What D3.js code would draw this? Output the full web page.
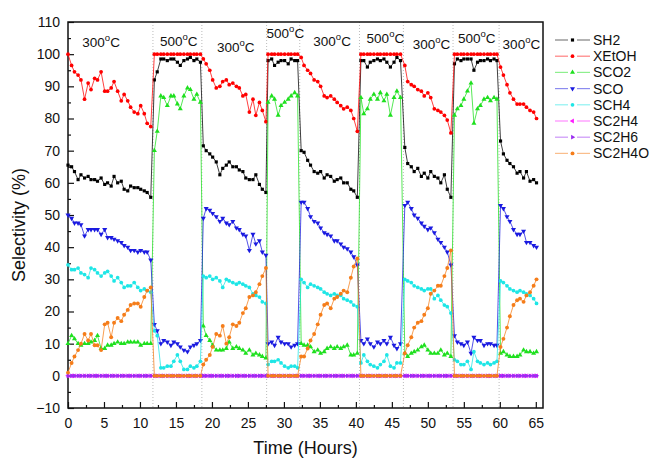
<!DOCTYPE html>
<html>
<head>
	<title>Selectivity</title>
	<meta charset='utf-8'>
	<style>
		body { margin: 0; background: #fff; }
		svg { font-family: 'Liberation Sans', Arial, sans-serif; }
		.axis text { font-size: 14px; fill: #111; }
		.axis line { stroke: #111; stroke-width: 1.2px; }
		.axis path.domain { display: none; }
		.frame { fill: none; stroke: #111; stroke-width: 1.5px; }
		.sep { stroke: #bbb; stroke-width: 1px; stroke-dasharray: 1,2; }
		.line { fill: none; stroke-width: 1px; }
		.title { font-size: 18px; fill: #111; }
		.temp { font-size: 13.5px; fill: #111; }
		.legend text { font-size: 14px; fill: #111; }
	</style>
</head>
<body>
<script src='https://d3js.org/d3.v7.min.js'></script>
<script>
	'use strict';

	// время отбора проб, часы (9 участков: 300 / 500 / 300 ...)
	const hours = [
		0, 0.5, 0.9, 1.4, 1.8, 2.3, 2.8, 3.2, 3.7, 4.1, 4.6, 5.1, 5.5, 6.0, 6.4, 6.9, 7.4, 7.8, 8.3, 8.7, 9.2, 9.7, 10.1, 10.6, 11.0, 11.5,
		12.0, 12.4, 12.9, 13.3, 13.8, 14.3, 14.7, 15.2, 15.6, 16.1, 16.6, 17.0, 17.5, 17.9, 18.4,
		18.8, 19.2, 19.7, 20.1, 20.6, 21.1, 21.5, 22.0, 22.4, 22.9, 23.4, 23.8, 24.3, 24.7, 25.2, 25.7, 26.1, 26.6, 27.0, 27.5,
		27.8, 28.3, 28.7, 29.2, 29.6, 30.1, 30.6, 31.0, 31.5, 31.9,
		32.4, 32.8, 33.3, 33.7, 34.2, 34.7, 35.1, 35.6, 36.0, 36.5, 37.0, 37.4, 37.9, 38.3, 38.8, 39.3, 39.7, 40.2,
		40.7, 41.1, 41.6, 42.0, 42.5, 43.0, 43.4, 43.9, 44.3, 44.8, 45.3, 45.7, 46.2,
		46.8, 47.2, 47.7, 48.1, 48.6, 49.1, 49.5, 50.0, 50.4, 50.9, 51.4, 51.8, 52.3, 52.7, 53.2,
		53.7, 54.1, 54.6, 55.0, 55.5, 56.0, 56.4, 56.9, 57.3, 57.8, 58.3, 58.7, 59.2, 59.6,
		60.1, 60.5, 61.0, 61.4, 61.9, 62.4, 62.8, 63.3, 63.7, 64.2, 64.7, 65.1
	];

	const sh2 = [
		65.5, 65, 63.5, 61, 62.5, 61.5, 62, 61, 61, 60.5, 61.5, 59.5, 60, 59, 62, 60, 60.5, 58, 57.5, 59, 58.5, 58.5, 58, 57.5, 57, 55.5,
		92, 94.5, 98.5, 98.5, 98, 98.5, 98.5, 97.5, 96.5, 98, 98.5, 99, 98, 98.5, 97.5,
		71.5, 70, 69, 68, 66.5, 62.5, 64.5, 65.5, 66.5, 65, 65, 64, 63.5, 61.5, 61, 61, 62.5, 59.5, 58, 57,
		98, 98.5, 96.5, 97.5, 98, 98, 97, 98.5, 98, 98,
		70, 69.5, 67, 65.5, 63.5, 63, 63.5, 61.5, 62.5, 62, 60.5, 61, 61.5, 60, 60, 58, 57.5, 55.5,
		98, 98, 96, 97.5, 98, 98.5, 98, 98.5, 97.5, 96, 97.5, 99, 98,
		71, 66, 65, 63.5, 64.5, 62, 63, 61.5, 63.5, 62, 61.5, 60, 62.5, 58, 55.5,
		97, 98.5, 98, 98.5, 98.5, 98.5, 95, 97.5, 98, 98, 98.5, 98, 98.5, 98,
		73, 69, 67, 66, 65, 63, 63.5, 61.5, 63.5, 60.5, 61, 60
	];

	const xEtOH = [
		100, 96.5, 94.5, 93.5, 92, 86, 91, 89, 92.5, 92, 94.5, 88.5, 88.5, 89.5, 91.5, 88.5, 85.5, 87.5, 85.5, 83.5, 82, 81.5, 84, 81.5, 78.5, 77.5,
		100, 100, 100, 100, 100, 100, 100, 100, 100, 100, 100, 100, 100, 100, 100,
		98.5, 97, 95, 92, 89.5, 90, 91.5, 92, 90.5, 91, 90, 89.5, 87, 87.5, 82, 86, 81, 85, 82.5, 79,
		100, 100, 100, 100, 100, 100, 100, 100, 100, 100,
		99, 96.5, 95, 94, 92, 91.5, 90, 87, 86.5, 87, 86, 85, 84, 83, 83.5, 82.5, 80, 76,
		100, 100, 100, 100, 100, 100, 100, 100, 100, 100, 100, 100, 100,
		96.5, 91.5, 90.5, 90, 89, 88.5, 87, 88, 86.5, 83, 82.5, 82, 81, 79.5, 75.5,
		100, 100, 100, 100, 100, 100, 100, 100, 100, 100, 100, 100, 100, 100,
		96, 93.5, 90.5, 88, 86, 84.5, 84.5, 84.5, 83.5, 82.5, 82, 80
	];

	const sco2 = [
		10, 12.5, 11.5, 10, 9.5, 10, 10, 10.5, 11, 12.5, 8.5, 8.5, 9.5, 9.5, 10, 10.5, 10, 10, 10.5, 10.5, 10.5, 10.5, 9.5, 10, 10, 10,
		70, 76, 87, 86.5, 84, 87, 87, 84.5, 83, 87, 89.5, 89, 86, 87.5, 85,
		15.5, 12.5, 11, 9.5, 8, 8, 8, 8.5, 10.5, 8.5, 9, 8.5, 8, 7, 8, 6.5, 7, 6.5, 6, 5.5,
		85, 87, 86, 81, 84, 85, 86, 87, 88, 87,
		10, 9.5, 9.5, 9, 7.5, 8, 7, 7.5, 8.5, 9, 8.5, 9, 8.5, 9, 9.5, 6.5, 6.5, 7,
		86.5, 81.5, 83, 86, 87.5, 86, 88, 85.5, 87.5, 81, 86.5, 88.5, 86.5,
		7, 6, 7, 7.5, 8, 9, 9.5, 8, 7, 7, 7, 8, 6.5, 7, 6,
		81, 83, 84, 86, 88.5, 91, 78.5, 83, 84, 86, 86.5, 85.5, 86.5, 86,
		7, 7.5, 6.5, 6, 6, 6, 6.5, 8, 7.5, 7.5, 7, 7.5
	];

	const sco = [
		50, 49, 47.5, 47.5, 47, 43.5, 45.5, 45.5, 45.5, 45.5, 44, 45.5, 43, 43, 42.5, 42, 41.5, 40.5, 40, 39, 39, 38.5, 39, 38.5, 38.5, 36,
		16, 14, 10, 11, 10.5, 9.5, 10.5, 10, 9, 8, 7.5, 9, 9.5, 10, 11,
		49, 52, 51.5, 50.5, 49.5, 48, 49, 47.5, 47, 48, 46, 45.5, 44, 43.5, 39, 44, 41, 42, 38.5, 37.5,
		10, 10.5, 9.5, 12, 10.5, 10, 10, 9, 9.5, 10,
		54, 54, 52, 49.5, 48, 47.5, 46, 44.5, 44, 43.5, 42, 42, 41, 40, 39.5, 38.5, 37, 34.5,
		11, 10, 11.5, 10, 9, 10.5, 10, 11, 10, 12, 9.5, 8.5, 10,
		53, 54, 52, 50, 49, 47.5, 46.5, 45.5, 46, 44.5, 42.5, 41.5, 40, 38.5, 34.5,
		12.5, 10.5, 10, 9.5, 10.5, 7, 12, 11, 11, 9.5, 10, 10, 9.5, 9.5,
		53, 52, 49.5, 48, 45.5, 44, 44, 45, 41.5, 41.5, 40.5, 40
	];

	const sch4 = [
		34.5, 33, 33, 33.5, 32, 31.5, 30.5, 33.5, 33, 32, 31, 32, 32.5, 31, 29.5, 30.5, 29, 27.5, 28, 28, 29, 27.5, 26.5, 27, 26.5, 26,
		14, 12.5, 2.5, 2.5, 3, 3, 4.5, 6.5, 4.5, 2, 2, 3, 2.5, 3, 4.5,
		31, 30.5, 31, 30, 30.5, 29.5, 27.5, 30, 29.5, 29, 28.5, 29, 28.5, 28, 27.5, 25.5, 25, 24.5, 23, 22.5,
		3.5, 4.5, 4.5, 5, 4, 3, 2.5, 3, 3, 2.5,
		30, 29, 27.5, 28.5, 28, 27.5, 27, 26, 25.5, 25, 25.5, 25, 25, 24, 23.5, 23, 22, 21.5,
		4, 6.5, 4.5, 3.5, 3, 2.5, 3.5, 4.5, 6.5, 3, 2.5, 4, 4,
		30, 29.5, 29, 28, 27.5, 27, 26.5, 27, 27, 24, 25, 23.5, 22, 21.5, 19.5,
		5, 4.5, 3.5, 3.5, 4.5, 2, 7.5, 4.5, 4, 3.5, 4, 3.5, 4, 4.5,
		29.5, 29, 28, 27, 26.5, 26, 26.5, 26, 25.5, 25, 24, 22.5
	];

	const sc2h4 = [
		0, 0, 0, 0, 0, 0, 0, 0, 0, 0, 0, 0, 0, 0, 0, 0, 0, 0, 0, 0, 0, 0, 0, 0, 0, 0,
		0, 0, 0, 0, 0, 0, 0, 0, 0, 0, 0, 0, 0, 0, 0,
		0, 0, 0, 0, 0, 0, 0, 0, 0, 0, 0, 0, 0, 0, 0, 0, 0, 0, 0, 0,
		0, 0, 0, 0, 0, 0, 0, 0, 0, 0,
		0, 0, 0, 0, 0, 0, 0, 0, 0, 0, 0, 0, 0, 0, 0, 0, 0, 0,
		0, 0, 0, 0, 0, 0, 0, 0, 0, 0, 0, 0, 0,
		0, 0, 0, 0, 0, 0, 0, 0, 0, 0, 0, 0, 0, 0, 0,
		0, 0, 0, 0, 0, 0, 0, 0, 0, 0, 0, 0, 0, 0,
		0, 0, 0, 0, 0, 0, 0, 0, 0, 0, 0, 0
	];

	const sc2h6 = [
		0, 0, 0, 0, 0, 0, 0, 0, 0, 0, 0, 0, 0, 0, 0, 0, 0, 0, 0, 0, 0, 0, 0, 0, 0, 0,
		0, 0, 0, 0, 0, 0, 0, 0, 0, 0, 0, 0, 0, 0, 0,
		0, 0, 0, 0, 0, 0, 0, 0, 0, 0, 0, 0, 0, 0, 0, 0, 0, 0, 0, 0,
		0, 0, 0, 0, 0, 0, 0, 0, 0, 0,
		0, 0, 0, 0, 0, 0, 0, 0, 0, 0, 0, 0, 0, 0, 0, 0, 0, 0,
		0, 0, 0, 0, 0, 0, 0, 0, 0, 0, 0, 0, 0,
		0, 0, 0, 0, 0, 0, 0, 0, 0, 0, 0, 0, 0, 0, 0,
		0, 0, 0, 0, 0, 0, 0, 0, 0, 0, 0, 0, 0, 0,
		0, 0, 0, 0, 0, 0, 0, 0, 0, 0, 0, 0
	];

	const sc2h4o = [
		1, 4, 6, 8, 10, 13, 11, 13, 9.5, 9.5, 8, 16, 16.5, 12, 16.5, 18, 17, 19, 20.5, 22, 22.5, 22.5, 21.5, 24.5, 26.5, 27.5,
		0, 0, 0, 0, 0, 0, 0, 0, 0, 0, 0, 0, 0, 0, 0,
		3.5, 5, 6.5, 9, 13, 12.5, 15.5, 10, 12, 16, 15.5, 16.5, 19.5, 21, 24.5, 25, 26, 28.5, 31, 33.5,
		0, 0, 0, 0, 0, 0, 0, 0, 0, 0,
		6, 6, 8.5, 11, 13, 16, 19, 22, 22.5, 21, 24, 24.5, 25.5, 26.5, 26, 30.5, 34, 36.5,
		0, 0, 0, 0, 0, 0, 0, 0, 0, 0, 0, 0, 0,
		7, 9.5, 12, 15, 16.5, 17, 19, 21, 25.5, 26.5, 28, 28, 31, 33.5, 39,
		0, 0, 0, 0, 0, 0, 0, 0, 0, 0, 0, 0, 0, 0,
		9, 11.5, 15, 18.5, 22, 23.5, 24, 23, 25, 26, 28, 30
	];

	const seriesNames = ['SH2', 'XEtOH', 'SCO2', 'SCO', 'SCH4', 'SC2H4', 'SC2H6', 'SC2H4O'];
	const seriesValues = [sh2, xEtOH, sco2, sco, sch4, sc2h4, sc2h6, sc2h4o];

	// границы смены температуры (часы) и подписи участков
	const switchHours = [11.8, 18.6, 27.6, 32.2, 40.5, 46.6, 53.5, 59.9];
	const tempText = ['300', '500', '300', '500', '300', '500', '300', '500', '300'];
	const tempAt = [4.6, 15.4, 23.3, 30.2, 36.7, 44.1, 50.5, 56.8, 63.0];
	const tempLevel = [102.2, 102.4, 100.8, 105, 102.4, 103.5, 101.5, 103.5, 101.6];

	// оформление серий
	const colors = ['#000000', '#ff0000', '#1ee01e', '#1a1ae0', '#1ee6e6', '#ff1aff', '#9a2cf0', '#f57d1a'];
	const symbols = [d3.symbolSquare, d3.symbolCircle, d3.symbolTriangle, d3.symbolTriangle,
		d3.symbolCircle, d3.symbolTriangle, d3.symbolTriangle, d3.symbolCircle];
	const rotations = [0, 0, 0, 180, 0, -90, 90, 0];
	const sizes = [10, 11, 11, 11, 11, 10, 10, 12];

	const W = 654, H = 460;
	const margin = {top: 22, right: 111, bottom: 52, left: 68};
	const width = W - margin.left - margin.right;
	const height = H - margin.top - margin.bottom;

	const xScale = d3.scaleLinear().domain([0, 66]).range([0, width]);
	const yScale = d3.scaleLinear().domain([-10, 110]).range([height, 0]);

	const svgRoot = d3.select('body').append('svg')
		.attr('width', W)
		.attr('height', H);

	const svg = svgRoot.append('g')
		.attr('transform', 'translate(' + margin.left + ',' + margin.top + ')');

	// пунктирные разделители участков
	svg.selectAll('.sep')
		.data(switchHours)
		.enter().append('line')
		.attr('class', 'sep')
		.attr('x1', function(d) {return xScale(d);})
		.attr('x2', function(d) {return xScale(d);})
		.attr('y1', 0)
		.attr('y2', height);

	// оси, засечки внутрь
	svg.append('g')
		.attr('class', 'axis')
		.attr('transform', 'translate(0,' + height + ')')
		.call(d3.axisBottom(xScale)
			.tickValues(d3.range(0, 66, 5))
			.tickSizeInner(-6).tickSizeOuter(0).tickPadding(10));

	svg.append('g')
		.attr('class', 'axis')
		.attr('transform', 'translate(0,' + height + ')')
		.call(d3.axisBottom(xScale)
			.tickValues(d3.range(2.5, 66, 5))
			.tickSizeInner(-3).tickSizeOuter(0).tickFormat(''));

	svg.append('g')
		.attr('class', 'axis')
		.call(d3.axisLeft(yScale)
			.tickValues(d3.range(-10, 111, 10))
			.tickSizeInner(-6).tickSizeOuter(0).tickPadding(8));

	svg.append('g')
		.attr('class', 'axis')
		.call(d3.axisLeft(yScale)
			.tickValues(d3.range(-5, 110, 10))
			.tickSizeInner(-3).tickSizeOuter(0).tickFormat(''));

	svg.append('rect')
		.attr('class', 'frame')
		.attr('width', width)
		.attr('height', height);

	const valueline = d3.line()
		.x(function(d) {return xScale(d.h);})
		.y(function(d) {return yScale(d.v);});

	function symbolPath(i) {
		return d3.symbol().type(symbols[i]).size(sizes[i])();
	}

	// линии и маркеры
	seriesValues.forEach(function(values, i) {
		const points = hours.map(function(h, j) {return {h: h, v: values[j]};});
		const g = svg.append('g');

		g.append('path')
			.datum(points)
			.attr('class', 'line')
			.attr('stroke', colors[i])
			.attr('stroke-opacity', 0.75)
			.attr('d', valueline);

		g.selectAll('path.mark')
			.data(points)
			.enter().append('path')
			.attr('class', 'mark')
			.attr('fill', colors[i])
			.attr('d', symbolPath(i))
			.attr('transform', function(d) {
				return 'translate(' + xScale(d.h) + ',' + yScale(d.v) + ') rotate(' + rotations[i] + ')';
			});
	});

	// подписи температуры
	const temps = svg.selectAll('.temp')
		.data(tempText)
		.enter().append('text')
		.attr('class', 'temp')
		.attr('text-anchor', 'middle')
		.attr('x', function(d, i) {return xScale(tempAt[i]);})
		.attr('y', function(d, i) {return yScale(tempLevel[i]);});
	temps.append('tspan').text(function(d) {return d;});
	temps.append('tspan').attr('dy', -6).attr('font-size', '9.5px').text('o');
	temps.append('tspan').attr('dy', 6).text('C');

	// заголовки осей
	svgRoot.append('text')
		.attr('class', 'title')
		.attr('text-anchor', 'middle')
		.attr('x', margin.left + width / 2)
		.attr('y', 454)
		.text('Time (Hours)');

	svgRoot.append('text')
		.attr('class', 'title')
		.attr('text-anchor', 'middle')
		.attr('transform', 'translate(25,' + 225 + ') rotate(-90)')
		.text('Selectivity (%)');

	// легенда: бледная линия с разрывом под маркером
	const legend = svgRoot.append('g')
		.attr('class', 'legend')
		.attr('transform', 'translate(555,40)');

	const rows = legend.selectAll('g')
		.data(seriesNames)
		.enter().append('g')
		.attr('transform', function(d, i) {return 'translate(0,' + (i * 16.2) + ')';});

	[[0, 13], [22, 35]].forEach(function(seg) {
		rows.append('line')
			.attr('x1', seg[0]).attr('x2', seg[1])
			.attr('stroke', function(d, i) {return colors[i];})
			.attr('stroke-opacity', 0.5)
			.attr('stroke-width', 1.2);
	});

	rows.append('path')
		.attr('fill', function(d, i) {return colors[i];})
		.attr('d', function(d, i) {return symbolPath(i);})
		.attr('transform', function(d, i) {return 'translate(17.5,0) rotate(' + rotations[i] + ')';});

	rows.append('text')
		.attr('x', 38)
		.attr('dy', '0.36em')
		.text(function(d) {return d;});

</script>
</body>
</html>
